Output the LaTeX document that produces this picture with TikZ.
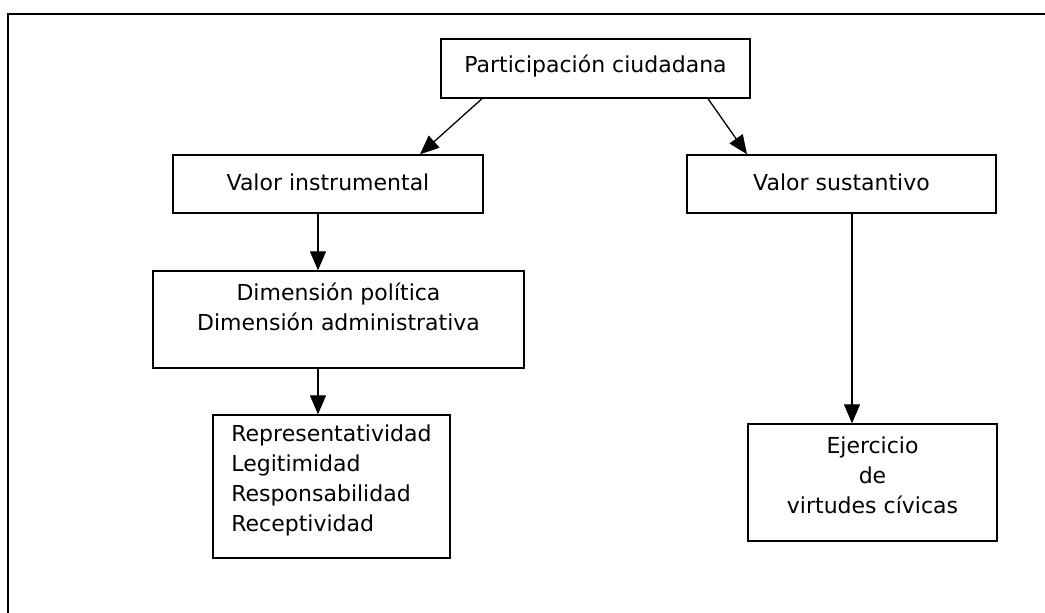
\documentclass[tikz,border=0pt]{standalone}
\usepackage{fontspec}
\setmainfont{DejaVu Sans}
\usetikzlibrary{arrows.meta}
\newcommand\liftx[3][c]{\raisebox{#2}[\height][\depth]{\begin{tabular}{@{}#1@{}}#3\end{tabular}}}
\begin{document}
\begin{tikzpicture}[x=1pt,y=-1pt,
  box/.style={draw, line width=1.4pt, inner sep=0pt, font=\fontsize{22}{30}\selectfont},
  arr/.style={line width=1.3pt, -{Triangle[length=19pt,width=16pt]}},
  frame/.style={line width=2pt}]
\useasboundingbox (0,0) rectangle (1045,613);
\coordinate (fa) at (8,613);
\coordinate (fb) at (8,14);
\coordinate (fc) at (1045,14);
\draw[frame] (fa) -- (fb) -- (fc);
\node[box, minimum width=309pt, minimum height=59pt] (P) at (595.5,68.5) {\liftx{2pt}{Participación ciudadana}};
\node[box, minimum width=310pt, minimum height=58pt] (VI) at (328,184) {\liftx{0pt}{Valor instrumental}};
\node[box, minimum width=309pt, minimum height=58pt] (VS) at (841.5,184) {\liftx{0pt}{Valor sustantivo}};
\node[box, minimum width=371pt, minimum height=97pt] (D) at (338.5,319.5) {\liftx{10pt}{Dimensión política\\Dimensión administrativa}};
\node[box, minimum width=237pt, minimum height=143pt] (R) at (331.5,486.5) {\liftx[l]{6.5pt}{Representatividad\\Legitimidad\\Responsabilidad\\Receptividad}};
\node[box, minimum width=249pt, minimum height=117pt] (E) at (872.5,482.5) {\liftx{5.5pt}{Ejercicio\\de\\virtudes cívicas}};
\draw[arr] ([xshift=-113.5pt]P.south) -- ([xshift=92pt]VI.north);
\draw[arr] ([xshift=112.5pt]P.south) -- ([xshift=-94.5pt]VS.north);
\draw[arr] ([xshift=-10pt]VI.south) -- ([xshift=-20.5pt]D.north);
\draw[arr] ([xshift=-20.5pt]D.south) -- ([xshift=-13.5pt]R.north);
\draw[arr] ([xshift=10.5pt]VS.south) -- ([xshift=-20.5pt]E.north);
\end{tikzpicture}
\end{document}
